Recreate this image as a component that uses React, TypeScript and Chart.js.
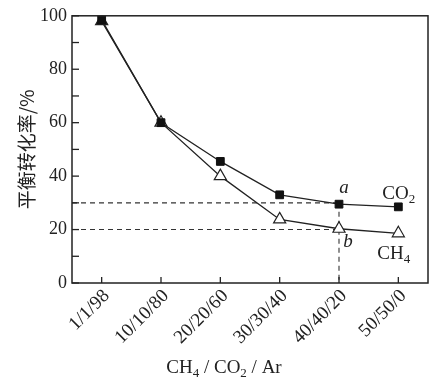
import React, { useEffect, useRef } from "react";
import { Chart, registerables } from "chart.js";

Chart.register(...registerables);

const categories = ["1/1/98", "10/10/80", "20/20/60", "30/30/40", "40/40/20", "50/50/0"];
const co2Values = [98.5, 60, 45.5, 33, 29.5, 28.5];
const ch4Values = [98, 60, 40, 23.8, 20.3, 18.6];
const yTickLabels = [0, 20, 40, 60, 80, 100];
const refLevels = [30, 20];
const refCategoryIndex = 4;

const INK = "#222";
const SERIF = "'Liberation Serif', 'Times New Roman', serif";

type Part = { t: string; sub?: boolean };

function drawRich(ctx: CanvasRenderingContext2D, parts: Part[], x: number, y: number, size: number, align: "left" | "center", italic = false) {
  const subSize = Math.round(size * 0.68);
  const style = italic ? "italic " : "";
  let total = 0;
  const widths = parts.map((p) => {
    ctx.font = `${style}${p.sub ? subSize : size}px ${SERIF}`;
    const w = ctx.measureText(p.t).width;
    total += w;
    return w;
  });
  let cx = align === "center" ? x - total / 2 : x;
  ctx.textBaseline = "middle";
  ctx.textAlign = "left";
  parts.forEach((p, i) => {
    ctx.font = `${style}${p.sub ? subSize : size}px ${SERIF}`;
    ctx.fillText(p.t, cx, p.sub ? y + size * 0.28 : y);
    cx += widths[i];
  });
}

const decor = {
  id: "decor",
  beforeDraw(chart: any) {
    const { ctx } = chart;
    ctx.save();
    ctx.fillStyle = "#ffffff";
    ctx.fillRect(0, 0, chart.width, chart.height);
    ctx.restore();
  },
  beforeDatasetsDraw(chart: any) {
    const { ctx, chartArea } = chart;
    const xs = chart.scales.x;
    const ys = chart.scales.y;
    const xr = xs.getPixelForValue(refCategoryIndex);
    ctx.save();
    ctx.strokeStyle = "#333";
    ctx.lineWidth = 1.1;
    ctx.setLineDash([5, 4]);
    refLevels.forEach((v) => {
      const yy = ys.getPixelForValue(v);
      ctx.beginPath();
      ctx.moveTo(chartArea.left, yy);
      ctx.lineTo(xr, yy);
      ctx.stroke();
    });
    ctx.beginPath();
    ctx.moveTo(xr, ys.getPixelForValue(Math.max(...refLevels)));
    ctx.lineTo(xr, chartArea.bottom);
    ctx.stroke();
    ctx.restore();
  },
  afterDraw(chart: any) {
    const { ctx, chartArea } = chart;
    const xs = chart.scales.x;
    const ys = chart.scales.y;
    ctx.save();
    ctx.strokeStyle = INK;
    ctx.lineWidth = 1.5;
    ctx.strokeRect(chartArea.left, chartArea.top, chartArea.right - chartArea.left, chartArea.bottom - chartArea.top);
    ctx.lineWidth = 1.3;
    ys.ticks.forEach((t: any) => {
      const yy = ys.getPixelForValue(t.value);
      ctx.beginPath();
      ctx.moveTo(chartArea.left, yy);
      ctx.lineTo(chartArea.left + 7, yy);
      ctx.stroke();
    });
    categories.forEach((_, i) => {
      const xx = xs.getPixelForValue(i);
      ctx.beginPath();
      ctx.moveTo(xx, chartArea.bottom);
      ctx.lineTo(xx, chartArea.bottom - 6);
      ctx.stroke();
    });
    ctx.fillStyle = INK;
    const n = categories.length - 1;
    const ax = xs.getPixelForValue(refCategoryIndex);
    drawRich(ctx, [{ t: "a" }], ax + 5, ys.getPixelForValue(co2Values[refCategoryIndex]) - 16, 19, "center", true);
    drawRich(ctx, [{ t: "b" }], ax + 9, ys.getPixelForValue(ch4Values[refCategoryIndex]) + 13, 19, "center", true);
    const lx = xs.getPixelForValue(n);
    drawRich(ctx, [{ t: "CO" }, { t: "2", sub: true }], lx - 16, ys.getPixelForValue(co2Values[n]) - 13, 19, "left");
    drawRich(ctx, [{ t: "CH" }, { t: "4", sub: true }], lx - 21, ys.getPixelForValue(ch4Values[n]) + 21, 19, "left");
    drawRich(
      ctx,
      [{ t: "CH" }, { t: "4", sub: true }, { t: " / CO" }, { t: "2", sub: true }, { t: " / Ar" }],
      224,
      368,
      19,
      "center"
    );
    ctx.restore();
  },
};

export default function App() {
  const ref = useRef<HTMLCanvasElement | null>(null);
  useEffect(() => {
    if (!ref.current) return;
    const chart = new Chart(ref.current, {
      type: "line",
      data: {
        labels: categories,
        datasets: [
          {
            label: "CO2",
            data: co2Values,
            borderColor: INK,
            borderWidth: 1.3,
            pointStyle: "rect",
            pointRadius: 5.5,
            pointBackgroundColor: "#111",
            pointBorderColor: "#111",
            pointBorderWidth: 1,
            tension: 0,
          },
          {
            label: "CH4",
            data: ch4Values,
            borderColor: INK,
            borderWidth: 1.3,
            pointStyle: "triangle",
            pointRadius: 7,
            pointBackgroundColor: ch4Values.map((_, i) => (i === 0 ? "#111" : "#ffffff")),
            pointBorderColor: INK,
            pointBorderWidth: 1.2,
            tension: 0,
          },
        ],
      },
      options: {
        animation: false,
        responsive: true,
        maintainAspectRatio: false,
        layout: { padding: { top: 10, right: 11, left: 0, bottom: 0 } },
        plugins: { legend: { display: false }, tooltip: { enabled: false } },
        scales: {
          x: {
            offset: true,
            grid: { display: false, drawTicks: false },
            border: { display: false },
            ticks: {
              autoSkip: false,
              minRotation: 45,
              maxRotation: 45,
              padding: 2,
              labelOffset: 5,
              color: INK,
              font: { family: SERIF, size: 19 },
            },
            afterFit: (s: any) => {
              s.height = 101;
            },
          },
          y: {
            min: 0,
            max: 100,
            grid: { display: false, drawTicks: false },
            border: { display: false },
            ticks: {
              stepSize: 10,
              autoSkip: false,
              padding: 5,
              color: INK,
              font: { family: SERIF, size: 18 },
              callback: (v: any) => (yTickLabels.includes(Number(v)) ? String(v) : ""),
            },
            title: {
              display: true,
              text: "平衡转化率/%",
              color: INK,
              font: { family: "'Noto Sans CJK SC'", size: 19 },
              padding: { top: 15, bottom: 0 },
            },
            afterFit: (s: any) => {
              s.width = 72;
            },
          },
        },
      },
      plugins: [decor],
    });
    return () => chart.destroy();
  }, []);
  return (
    <div style={{ position: "absolute", left: 0, top: 0, width: 439, height: 384 }}>
      <canvas ref={ref} />
    </div>
  );
}
